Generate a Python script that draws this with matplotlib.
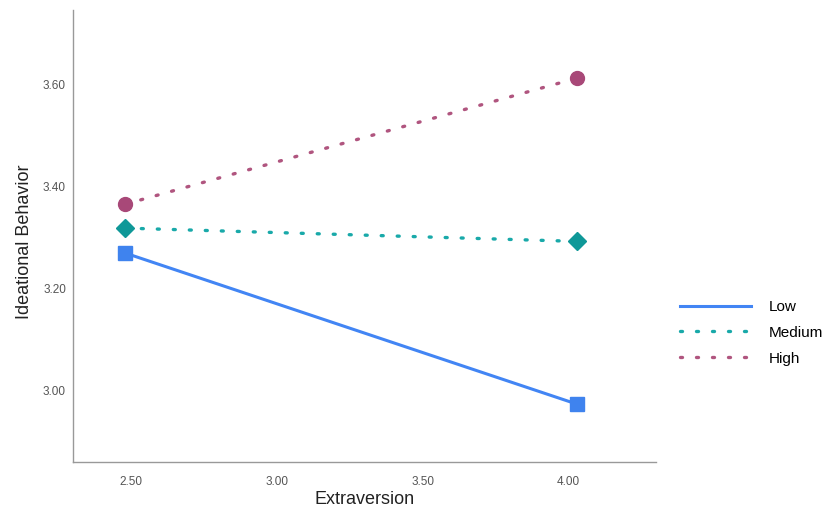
import matplotlib
matplotlib.use("Agg")
import matplotlib.pyplot as plt

# simple slopes: extraversion at -1SD / +1SD, by moderator level
extraversion = [2.48, 4.03]
groups = ["Low", "Medium", "High"]
low_values = [3.269, 2.973]
medium_values = [3.318, 3.292]
high_values = [3.365, 3.612]

y_ticks = [3.00, 3.20, 3.40, 3.60]
x_ticks = [2.50, 3.00, 3.50, 4.00]

plt.rcParams["font.family"] = ["Liberation Sans", "DejaVu Sans"]

fig = plt.figure(figsize=(8.28, 5.12), dpi=100)
ax = fig.add_axes([0.088, 0.098, 0.704, 0.882])

dotted = (0, (0.6, 4.2))
styles = {
    "Low": dict(color="#4285f4", ls="-", lw=2.2, marker="s", ms=10, mfc="#3f83ee"),
    "Medium": dict(color="#19a9a9", ls=dotted, lw=2.4, marker="D", ms=9, mfc="#0f9898"),
    "High": dict(color="#b0557f", ls=dotted, lw=2.4, marker="o", ms=10, mfc="#a84878"),
}
series = {"Low": low_values, "Medium": medium_values, "High": high_values}

handles = []
for g in groups:
    st = styles[g]
    ax.plot(extraversion, series[g], color=st["color"], ls=st["ls"], lw=st["lw"],
            marker=st["marker"], ms=st["ms"], mfc=st["mfc"], mec=st["mfc"],
            dash_capstyle="round")
    h, = ax.plot([], [], color=st["color"], ls=st["ls"], lw=st["lw"], label=g,
                 dash_capstyle="round")
    handles.append(h)

ax.set_xlim(2.30, 4.30)
ax.set_ylim(2.86, 3.745)
ax.set_xticks(x_ticks)
ax.set_yticks(y_ticks)
ax.set_xticklabels([f"{v:.2f}" for v in x_ticks])
ax.set_yticklabels([f"{v:.2f}" for v in y_ticks])
ax.tick_params(length=0, labelsize=8.5, colors="#555555")
ax.tick_params(axis="x", pad=10)
ax.tick_params(axis="y", pad=5)

for side in ["top", "right"]:
    ax.spines[side].set_visible(False)
for side in ["left", "bottom"]:
    ax.spines[side].set_color("#999999")
    ax.spines[side].set_linewidth(1.0)

ax.set_xlabel("Extraversion", fontsize=13, color="#222222", va="center")
ax.xaxis.set_label_coords(0.5, -0.084)
ax.set_ylabel("Ideational Behavior", fontsize=13, color="#222222", va="center")
ax.yaxis.set_label_coords(-0.083, 0.487)

fig.legend(handles=handles, loc="center left", bbox_to_anchor=(0.805, 0.35),
           frameon=False, fontsize=11, handlelength=4.6, handletextpad=1.2,
           labelspacing=0.78)

fig.savefig("out.png", dpi=100, facecolor="white")
